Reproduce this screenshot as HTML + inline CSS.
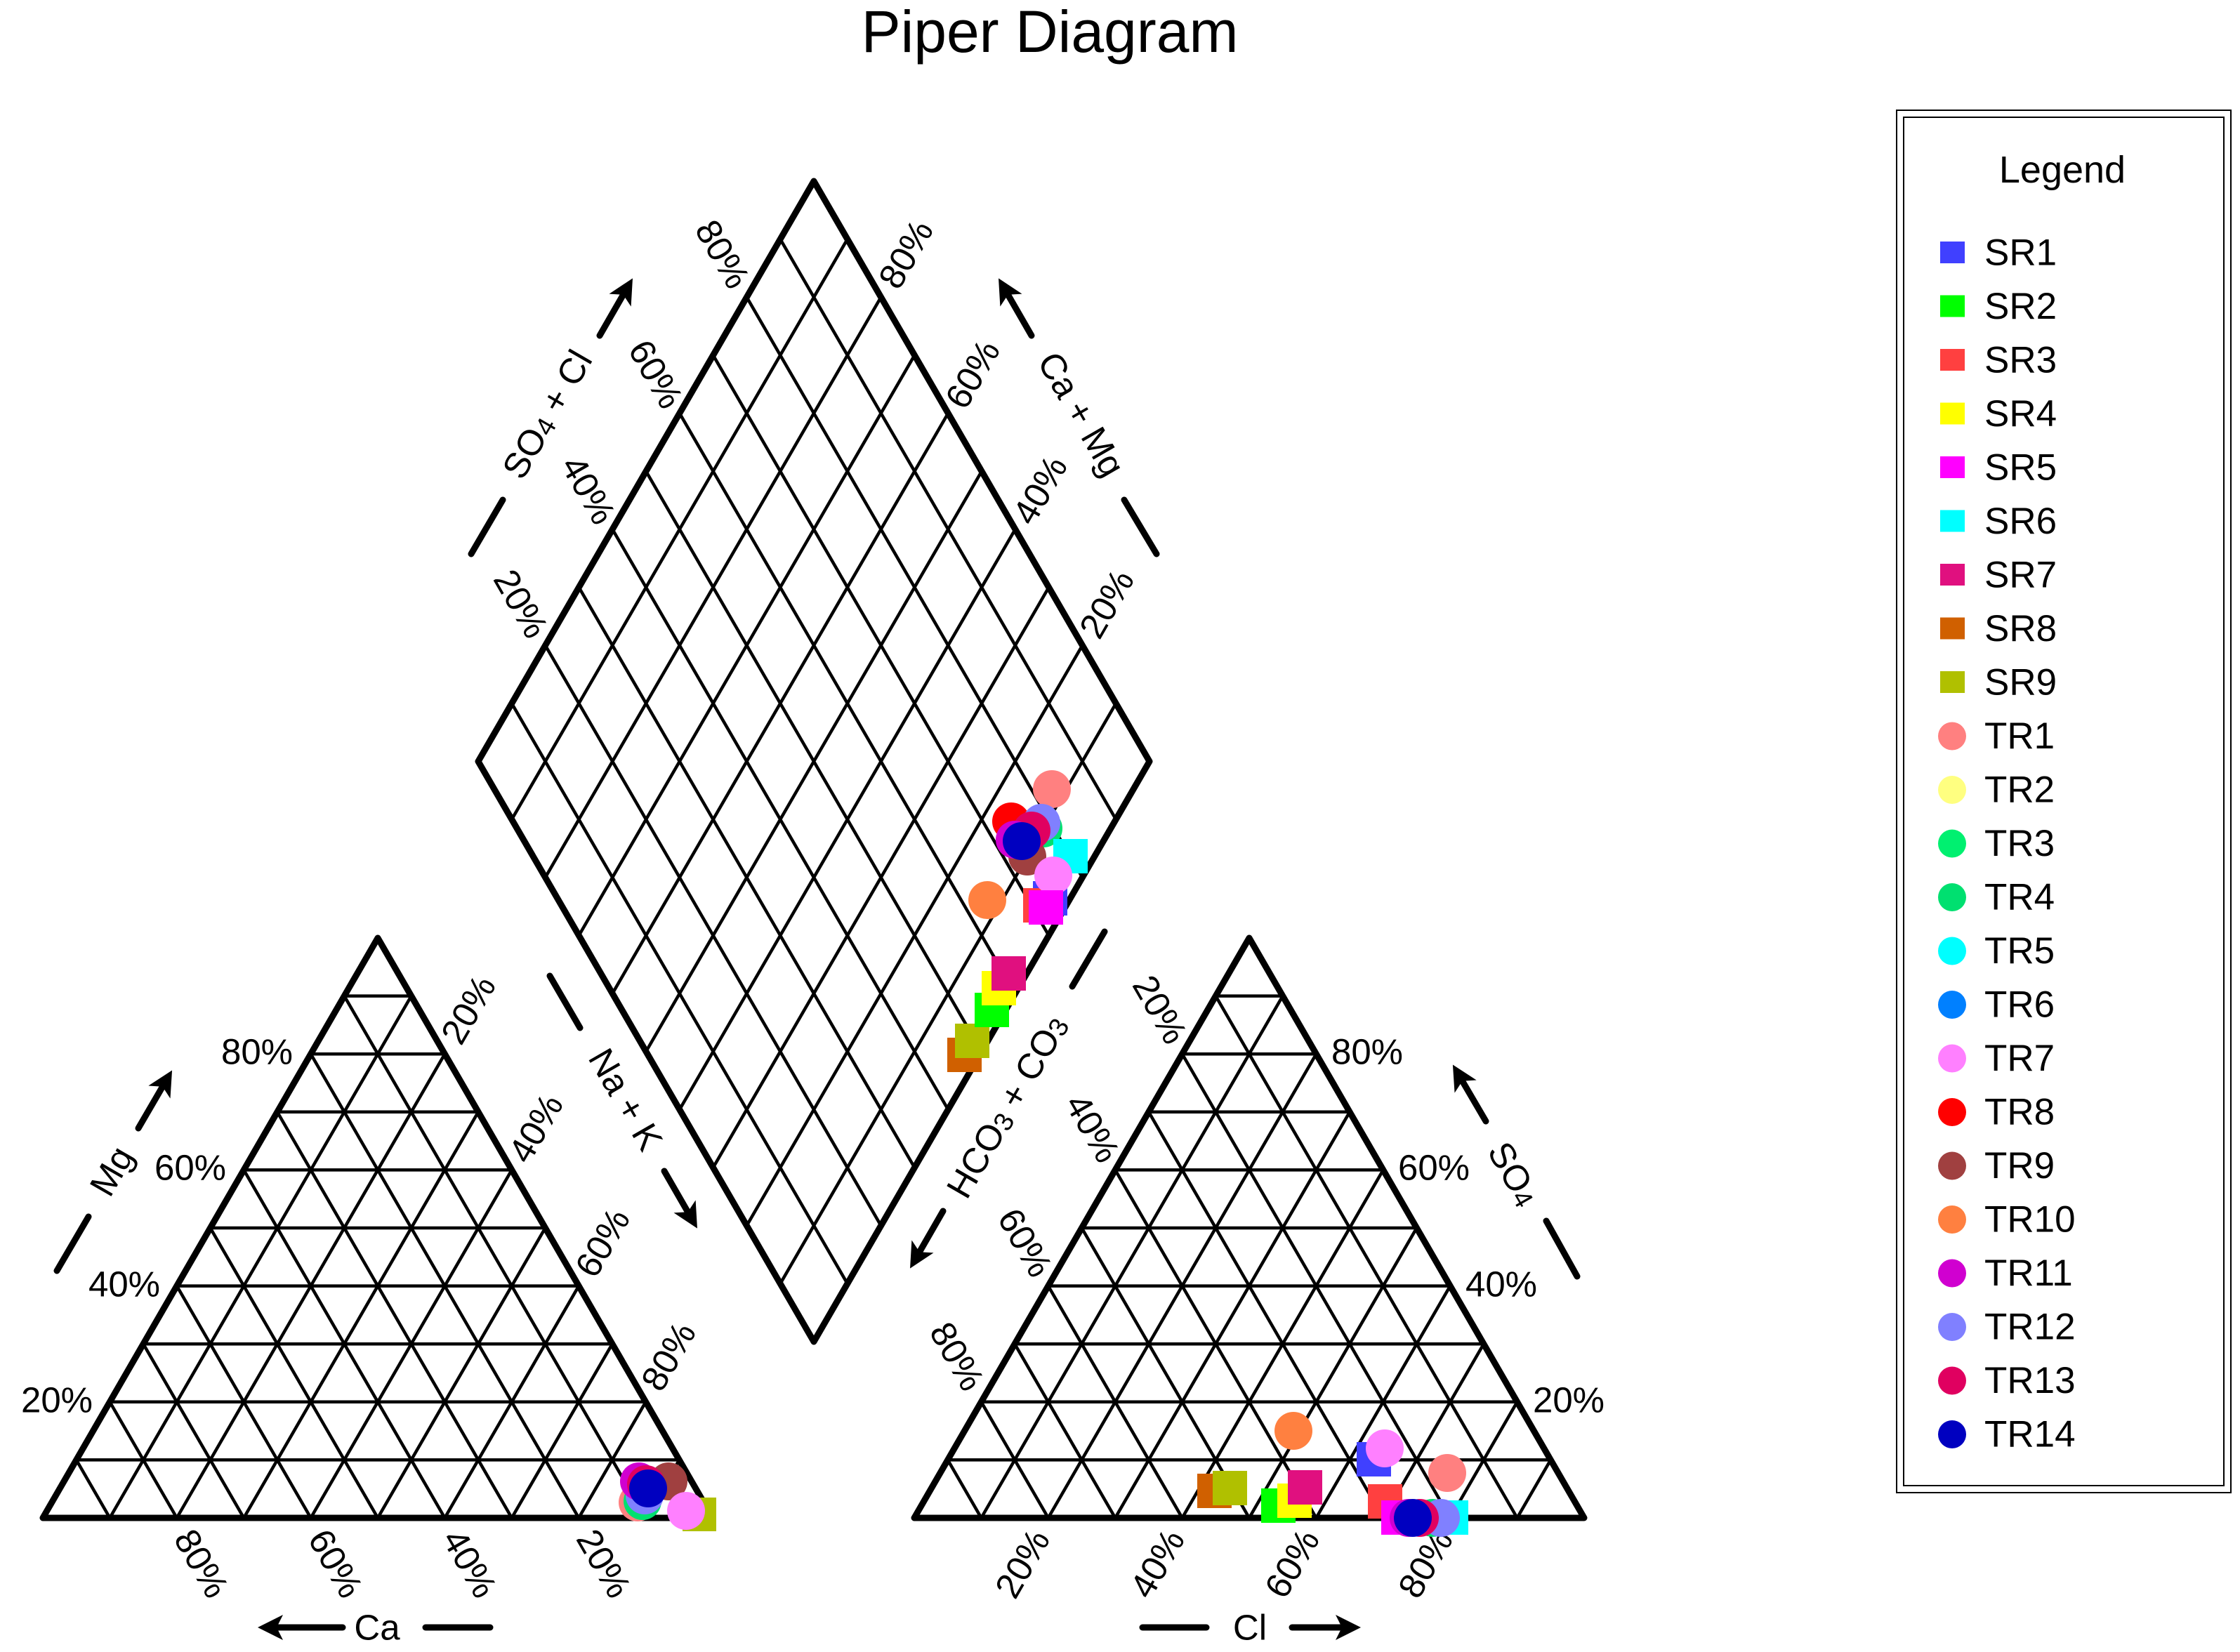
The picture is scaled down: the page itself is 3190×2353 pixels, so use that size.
<!DOCTYPE html>
<html><head><meta charset="utf-8"><style>
html,body{margin:0;padding:0;background:#fff;}
svg{display:block;}
text{font-family:"Liberation Sans",sans-serif;fill:#000;}
</style></head><body>
<svg id="s" width="3190" height="2353" viewBox="0 0 3190 2353" xmlns="http://www.w3.org/2000/svg" style="position:absolute;left:0;top:0">
<rect width="3190" height="2353" fill="#fff"/>
<g id="grid" stroke="#000" stroke-width="4.5" fill="none" stroke-linecap="round"></g>
<g id="outl" stroke="#000" stroke-width="9" fill="none" stroke-linejoin="round">
<polygon points="61,2162 1015,2162 538,1336"/>
<polygon points="1302,2162 2256,2162 1779,1336"/>
<polygon points="1159,258 1637,1084.5 1159,1911 681,1084.5"/>
</g>
<text x="1495" y="74" font-size="84" text-anchor="middle">Piper Diagram</text>

<g font-size="51" text-anchor="middle" dominant-baseline="central">
<text x="366" y="1498">80%</text>
<text x="271" y="1663">60%</text>
<text x="177" y="1829">40%</text>
<text x="81" y="1994">20%</text>
<text x="667" y="1438" transform="rotate(-60 667 1438)">20%</text>
<text x="763" y="1607" transform="rotate(-60 763 1607)">40%</text>
<text x="858" y="1770" transform="rotate(-60 858 1770)">60%</text>
<text x="952" y="1932" transform="rotate(-60 952 1932)">80%</text>
<text x="287" y="2227" transform="rotate(60 287 2227)">80%</text>
<text x="478" y="2227" transform="rotate(60 478 2227)">60%</text>
<text x="669" y="2227" transform="rotate(60 669 2227)">40%</text>
<text x="860" y="2227" transform="rotate(60 860 2227)">20%</text>
<text x="1652" y="1438" transform="rotate(60 1652 1438)">20%</text>
<text x="1556" y="1607" transform="rotate(60 1556 1607)">40%</text>
<text x="1460" y="1770" transform="rotate(60 1460 1770)">60%</text>
<text x="1363" y="1932" transform="rotate(60 1363 1932)">80%</text>
<text x="1947" y="1498">80%</text>
<text x="2042" y="1663">60%</text>
<text x="2138" y="1829">40%</text>
<text x="2234" y="1994">20%</text>
<text x="1456" y="2227" transform="rotate(-60 1456 2227)">20%</text>
<text x="1648" y="2227" transform="rotate(-60 1648 2227)">40%</text>
<text x="1840" y="2227" transform="rotate(-60 1840 2227)">60%</text>
<text x="2030" y="2227" transform="rotate(-60 2030 2227)">80%</text>
<text x="1029" y="362" transform="rotate(60 1029 362)">80%</text>
<text x="934" y="533" transform="rotate(60 934 533)">60%</text>
<text x="838" y="698" transform="rotate(60 838 698)">40%</text>
<text x="742" y="860" transform="rotate(60 742 860)">20%</text>
<text x="1290" y="362" transform="rotate(-60 1290 362)">80%</text>
<text x="1385" y="533" transform="rotate(-60 1385 533)">60%</text>
<text x="1481" y="698" transform="rotate(-60 1481 698)">40%</text>
<text x="1576" y="860" transform="rotate(-60 1576 860)">20%</text>

<text x="159" y="1668" transform="rotate(-60 159 1668)">Mg</text>
<text x="537" y="2318">Ca</text>
<text x="1780" y="2318">Cl</text>
<text x="2156" y="1672" transform="rotate(60 2156 1672)">SO<tspan font-size="38" dy="8">4</tspan></text>
<text x="891" y="1566" transform="rotate(60 891 1566)">Na + K</text>
<text x="1434" y="1576" transform="rotate(-60 1434 1576)">HCO<tspan font-size="38" dy="8">3</tspan><tspan dy="-8"> + CO</tspan><tspan font-size="38" dy="8">3</tspan></text>
<text x="779" y="590" transform="rotate(-60 779 590)">SO<tspan font-size="38" dy="8">4</tspan><tspan dy="-8"> + Cl</tspan></text>
<text x="1540" y="590" transform="rotate(60 1540 590)">Ca + Mg</text>
</g>

<defs><marker id="ah" markerWidth="4" markerHeight="4" refX="2" refY="2" orient="auto" markerUnits="strokeWidth"><path d="M0,0 L4,2 L0,4 L1,2 Z" fill="#000"/></marker></defs>
<g stroke="#000" stroke-width="9" stroke-linecap="round" fill="none">
<line x1="81" y1="1810" x2="126" y2="1733"/>
<line x1="197" y1="1607" x2="236" y2="1540" marker-end="url(#ah)"/>
<line x1="488" y1="2318" x2="385" y2="2318" marker-end="url(#ah)"/>
<line x1="606" y1="2318" x2="698" y2="2318"/>
<line x1="1627" y1="2318" x2="1718" y2="2318"/>
<line x1="1840" y1="2318" x2="1920" y2="2318" marker-end="url(#ah)"/>
<line x1="2116" y1="1597" x2="2078" y2="1532" marker-end="url(#ah)"/>
<line x1="2202" y1="1739" x2="2246" y2="1818"/>
<line x1="783" y1="1390" x2="826" y2="1464"/>
<line x1="946" y1="1668" x2="984" y2="1734" marker-end="url(#ah)"/>
<line x1="1573" y1="1327" x2="1527" y2="1405"/>
<line x1="1343" y1="1725" x2="1305" y2="1791" marker-end="url(#ah)"/>
<line x1="671" y1="789" x2="716" y2="712"/>
<line x1="854" y1="478" x2="892" y2="412" marker-end="url(#ah)"/>
<line x1="1601" y1="712" x2="1647" y2="789"/>
<line x1="1469" y1="478" x2="1431" y2="412" marker-end="url(#ah)"/>
</g>

<g id="pts">
<rect x="972" y="2133" width="48" height="48" fill="#B0C000"/>
<circle cx="908" cy="2140" r="27" fill="#FF8080"/>
<circle cx="915" cy="2138" r="27" fill="#00E070"/>
<circle cx="952" cy="2110" r="27" fill="#A04040"/>
<circle cx="918" cy="2130" r="27" fill="#8080FF"/>
<circle cx="910" cy="2110" r="27" fill="#D000D0"/>
<circle cx="920" cy="2114" r="27" fill="#E00060"/>
<circle cx="923" cy="2120" r="27" fill="#0000C0"/>
<circle cx="977" cy="2152" r="27" fill="#FF80FF"/>
<circle cx="1498" cy="1124" r="27" fill="#FF8080"/>
<circle cx="1486" cy="1180" r="27" fill="#00E070"/>
<circle cx="1440" cy="1170" r="27" fill="#FF0000"/>
<circle cx="1483" cy="1172" r="27" fill="#8080FF"/>
<circle cx="1463" cy="1220" r="27" fill="#A04040"/>
<circle cx="1469" cy="1183" r="27" fill="#E00060"/>
<circle cx="1445" cy="1196" r="27" fill="#D000D0"/>
<circle cx="1455" cy="1198" r="27" fill="#0000C0"/>
<rect x="1500" y="1195" width="49" height="49" fill="#00FFFF"/>
<rect x="1471" y="1255" width="49" height="49" fill="#4040FF"/>
<rect x="1457" y="1265" width="49" height="49" fill="#FF4040"/>
<circle cx="1500" cy="1247" r="27" fill="#FF80FF"/>
<rect x="1465" y="1268" width="49" height="49" fill="#FF00FF"/>
<circle cx="1406" cy="1282" r="27" fill="#FF8040"/>
<rect x="1349" y="1478" width="49" height="49" fill="#D06000"/>
<rect x="1360" y="1458" width="49" height="49" fill="#B0C000"/>
<rect x="1388" y="1414" width="49" height="49" fill="#00FF00"/>
<rect x="1398" y="1383" width="49" height="49" fill="#FFFF00"/>
<rect x="1412" y="1362" width="49" height="49" fill="#E0107F"/>
<circle cx="1842" cy="2038" r="27" fill="#FF8040"/>
<rect x="1932" y="2054" width="49" height="49" fill="#4040FF"/>
<circle cx="1972" cy="2063" r="27" fill="#FF80FF"/>
<circle cx="2061" cy="2098" r="27" fill="#FF8080"/>
<rect x="1705" y="2099" width="49" height="49" fill="#D06000"/>
<rect x="1727" y="2095" width="49" height="49" fill="#B0C000"/>
<rect x="1796" y="2120" width="49" height="49" fill="#00FF00"/>
<rect x="1819" y="2113" width="49" height="49" fill="#FFFF00"/>
<rect x="1834" y="2094" width="49" height="49" fill="#E0107F"/>
<rect x="1948" y="2114" width="49" height="49" fill="#FF4040"/>
<rect x="1967" y="2137" width="49" height="49" fill="#FF00FF"/>
<rect x="2042" y="2137" width="49" height="49" fill="#00FFFF"/>
<circle cx="2040" cy="2162" r="27" fill="#00E070"/>
<circle cx="2052" cy="2162" r="27" fill="#8080FF"/>
<circle cx="2006" cy="2162" r="27" fill="#D000D0"/>
<circle cx="2022" cy="2162" r="27" fill="#E00060"/>
<circle cx="2012" cy="2162" r="27" fill="#0000C0"/>
</g>

<rect x="2701" y="157" width="476" height="1969" fill="none" stroke="#000" stroke-width="2"/>
<rect x="2711" y="167" width="456" height="1949" fill="none" stroke="#000" stroke-width="2"/>
<text x="2937" y="260" font-size="54" text-anchor="middle">Legend</text>
<g id="leg"></g>
<g font-size="53" dominant-baseline="central">
<text x="2826" y="360">SR1</text><text x="2826" y="436.5">SR2</text><text x="2826" y="513">SR3</text><text x="2826" y="589.5">SR4</text><text x="2826" y="666">SR5</text><text x="2826" y="742.5">SR6</text><text x="2826" y="819">SR7</text><text x="2826" y="895.5">SR8</text><text x="2826" y="972">SR9</text><text x="2826" y="1048.5">TR1</text><text x="2826" y="1125">TR2</text><text x="2826" y="1201.5">TR3</text><text x="2826" y="1278">TR4</text><text x="2826" y="1354.5">TR5</text><text x="2826" y="1431">TR6</text><text x="2826" y="1507.5">TR7</text><text x="2826" y="1584">TR8</text><text x="2826" y="1660.5">TR9</text><text x="2826" y="1737">TR10</text><text x="2826" y="1813.5">TR11</text><text x="2826" y="1890">TR12</text><text x="2826" y="1966.5">TR13</text><text x="2826" y="2043">TR14</text>
</g>
</svg>
<script>
(function(){
var NS="http://www.w3.org/2000/svg",g=document.getElementById('grid');
function L(a,b,c,d){var l=document.createElementNS(NS,'line');l.setAttribute('x1',a);l.setAttribute('y1',b);l.setAttribute('x2',c);l.setAttribute('y2',d);g.appendChild(l);}
function tri(x0,yb,S,H){for(var i=1;i<10;i++){var t=i/10;
L(x0+t*S/2,yb-t*H,x0+S-t*S/2,yb-t*H);
L(x0+t*S,yb,x0+S-(1-t)*S/2,yb-(1-t)*H);
L(x0+t*S,yb,x0+t*S/2,yb-t*H);}}
tri(61,2162,954,826);tri(1302,2162,954,826);
var T=[1159,258],Lf=[681,1084.5],R=[1637,1084.5],B=[1159,1911];
for(var i=1;i<10;i++){var t=i/10;
L(T[0]+t*(R[0]-T[0]),T[1]+t*(R[1]-T[1]),Lf[0]+t*(B[0]-Lf[0]),Lf[1]+t*(B[1]-Lf[1]));
L(T[0]+t*(Lf[0]-T[0]),T[1]+t*(Lf[1]-T[1]),R[0]+t*(B[0]-R[0]),R[1]+t*(B[1]-R[1]));}
var lg=document.getElementById('leg');
var items=[["#4040FF",0],["#00FF00",0],["#FF4040",0],["#FFFF00",0],["#FF00FF",0],["#00FFFF",0],["#E0107F",0],["#D06000",0],["#B0C000",0],["#FF8080",1],["#FFFF80",1],["#00F070",1],["#00E070",1],["#00FFFF",1],["#0080FF",1],["#FF80FF",1],["#FF0000",1],["#A04040",1],["#FF8040",1],["#D000D0",1],["#8080FF",1],["#E00060",1],["#0000C0",1]];
items.forEach(function(it,i){var y=360+i*76.5,m;
if(it[1]){m=document.createElementNS(NS,'circle');m.setAttribute('cx',2780);m.setAttribute('cy',y);m.setAttribute('r',20);}
else{m=document.createElementNS(NS,'rect');m.setAttribute('x',2763);m.setAttribute('y',y-16);m.setAttribute('width',35);m.setAttribute('height',31);}
m.setAttribute('fill',it[0]);lg.appendChild(m);});
})();
</script>
</body></html>
